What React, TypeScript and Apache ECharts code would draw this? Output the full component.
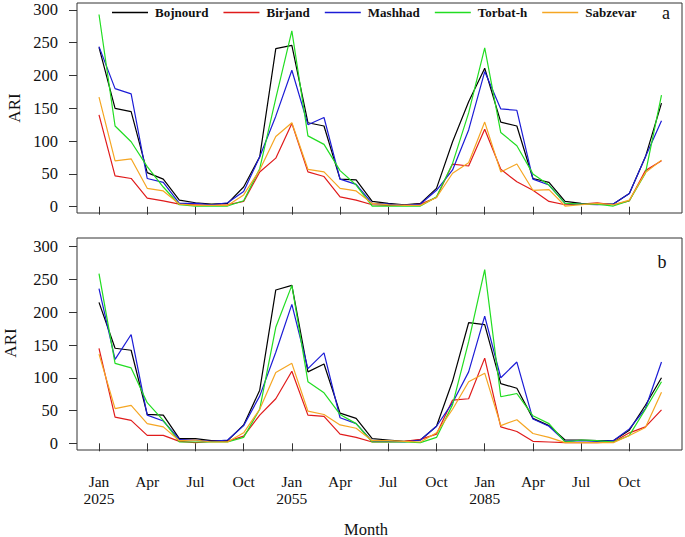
import React, { useEffect, useRef } from "react";
import * as echarts from "echarts";

const months = ["Jan", "Feb", "Mar", "Apr", "May", "Jun", "Jul", "Aug", "Sep", "Oct", "Nov", "Dec"];
const years = ["2025", "2055", "2085"];
const stations = ["Bojnourd", "Birjand", "Mashhad", "Torbat-h", "Sabzevar"];
const colors = ["#000000", "#e01b1b", "#1c1cd6", "#22dd22", "#f5a623"];

// Panel a
const bojA = [243, 150, 145, 52, 42, 10, 6, 4, 5, 30, 76, 241, 246, 128, 123, 42, 41, 8, 5, 3, 5, 28, 99, 160, 211, 129, 123, 43, 37, 8, 5, 4, 4, 20, 76, 158];
const birA = [140, 47, 43, 13, 9, 4, 3, 2, 3, 8, 53, 74, 127, 53, 46, 15, 10, 3, 2, 2, 4, 14, 65, 62, 118, 57, 38, 25, 8, 3, 4, 6, 3, 9, 55, 70];
const masA = [244, 180, 172, 43, 37, 5, 5, 3, 6, 23, 76, 138, 208, 125, 136, 42, 34, 5, 4, 2, 4, 25, 56, 117, 206, 149, 147, 42, 33, 5, 4, 3, 4, 20, 76, 131];
const torA = [293, 123, 99, 61, 30, 3, 1, 1, 1, 9, 58, 165, 268, 108, 95, 55, 33, 1, 1, 1, 1, 15, 66, 143, 242, 113, 93, 50, 33, 5, 4, 4, 1, 9, 51, 170];
const sabA = [167, 70, 73, 28, 24, 4, 2, 2, 2, 18, 56, 107, 128, 57, 53, 28, 24, 5, 3, 2, 2, 14, 51, 67, 129, 53, 65, 25, 26, 1, 3, 5, 3, 10, 52, 71];

// Panel b
const bojB = [215, 145, 142, 44, 43, 7, 7, 4, 4, 28, 81, 234, 241, 109, 121, 46, 38, 7, 5, 3, 5, 26, 95, 184, 181, 91, 84, 38, 27, 5, 5, 4, 4, 20, 58, 100];
const birB = [145, 40, 35, 12, 12, 3, 1, 3, 3, 11, 43, 68, 110, 43, 41, 14, 9, 2, 2, 3, 6, 14, 66, 68, 130, 25, 18, 3, 2, 1, 1, 1, 2, 16, 25, 51];
const masB = [236, 128, 166, 43, 34, 6, 5, 3, 5, 27, 72, 139, 212, 114, 138, 39, 30, 3, 3, 2, 5, 26, 62, 109, 194, 100, 124, 37, 26, 3, 4, 3, 4, 22, 53, 124];
const torB = [259, 122, 115, 62, 35, 2, 2, 2, 2, 9, 52, 177, 241, 94, 77, 44, 30, 2, 2, 2, 1, 9, 59, 155, 265, 71, 76, 42, 30, 2, 5, 4, 2, 12, 52, 94];
const sabB = [136, 53, 58, 30, 25, 4, 5, 2, 2, 16, 52, 108, 122, 49, 44, 28, 23, 4, 4, 3, 2, 16, 52, 94, 107, 27, 36, 15, 9, 1, 1, 1, 1, 12, 24, 78];

const yTicks = { min: 0, max: 300, interval: 50 };

const categories: string[] = [];
years.forEach((y) => months.forEach((m) => categories.push(m === "Jan" ? `${m}\n${y}` : m)));

const FONT = "'Liberation Serif', 'Times New Roman', serif";

export default function App() {
  const ref = useRef<HTMLDivElement>(null);
  useEffect(() => {
    if (!ref.current) return;
    const chart = echarts.init(ref.current, null, { renderer: "svg" });
    const seriesA = [bojA, birA, masA, torA, sabA];
    const seriesB = [bojB, birB, masB, torB, sabB];
    const gridLeft = 99;
    const gridRight = 685 - 661.5;
    const mkX = (gi: number, showLabels: boolean, offset: number) => ({
      type: "category",
      gridIndex: gi,
      data: categories,
      boundaryGap: false,
      offset,
      axisLine: { show: false },
      axisTick: { show: true, interval: 2, length: 8, lineStyle: { color: "#333", width: 1 } },
      axisLabel: {
        show: showLabels,
        interval: 2,
        margin: 23,
        color: "#111",
        fontFamily: FONT,
        fontSize: 15.5,
        lineHeight: 17,
      },
      splitLine: { show: false },
    });
    const mkY = (gi: number) => ({
      type: "value",
      gridIndex: gi,
      min: yTicks.min,
      max: yTicks.max,
      interval: yTicks.interval,
      offset: 22,
      axisLine: { show: false },
      axisTick: { show: true, length: 8, lineStyle: { color: "#333", width: 1 } },
      axisLabel: { margin: 19, color: "#111", fontFamily: FONT, fontSize: 16.5 },
      splitLine: { show: false },
    });
    const series: any[] = [];
    seriesA.forEach((d, i) =>
      series.push({
        name: stations[i],
        type: "line",
        xAxisIndex: 0,
        yAxisIndex: 0,
        data: d,
        symbol: "none",
        lineStyle: { width: 1.2, color: colors[i] },
        itemStyle: { color: colors[i] },
      })
    );
    seriesB.forEach((d, i) =>
      series.push({
        name: stations[i],
        type: "line",
        xAxisIndex: 1,
        yAxisIndex: 1,
        data: d,
        symbol: "none",
        lineStyle: { width: 1.2, color: colors[i] },
        itemStyle: { color: colors[i] },
      })
    );
    const txt = (text: string, x: number, y: number, size: number, rot = 0) => ({
      type: "text",
      x,
      y,
      rotation: rot,
      style: { text, fontFamily: FONT, fontSize: size, fill: "#111", textAlign: "center", textVerticalAlign: "middle" },
      silent: true,
    });
    chart.setOption({
      animation: false,
      backgroundColor: "#ffffff",
      grid: [
        { left: gridLeft, right: gridRight, top: 9.9, height: 196.8 },
        { left: gridLeft, right: gridRight, top: 246.7, height: 196.6 },
      ],
      xAxis: [mkX(0, false, 6.3), mkX(1, true, 6.7)],
      yAxis: [mkY(0), mkY(1)],
      legend: {
        data: stations,
        left: 112,
        top: 6,
        icon: "rect",
        itemWidth: 36,
        itemHeight: 1.3,
        itemGap: 15,
        textStyle: { fontFamily: FONT, fontSize: 13, fontWeight: "bold", color: "#111", padding: [0, 0, 0, 2] },
        padding: 0,
      },
      graphic: [
        { type: "rect", shape: { x: 77, y: 3, width: 605, height: 210 }, style: { fill: "none", stroke: "#333", lineWidth: 1 }, silent: true },
        { type: "rect", shape: { x: 77, y: 238, width: 605, height: 212 }, style: { fill: "none", stroke: "#333", lineWidth: 1 }, silent: true },
        txt("a", 666, 13, 18),
        txt("b", 662, 262, 18),
        txt("ARI", 14, 108, 17, Math.PI / 2),
        txt("ARI", 10, 343, 17, Math.PI / 2),
        txt("Month", 366, 529, 16.5),
      ],
      series,
    });
    return () => chart.dispose();
  }, []);
  return <div ref={ref} style={{ position: "fixed", left: 0, top: 0, width: 685, height: 537 }} />;
}
